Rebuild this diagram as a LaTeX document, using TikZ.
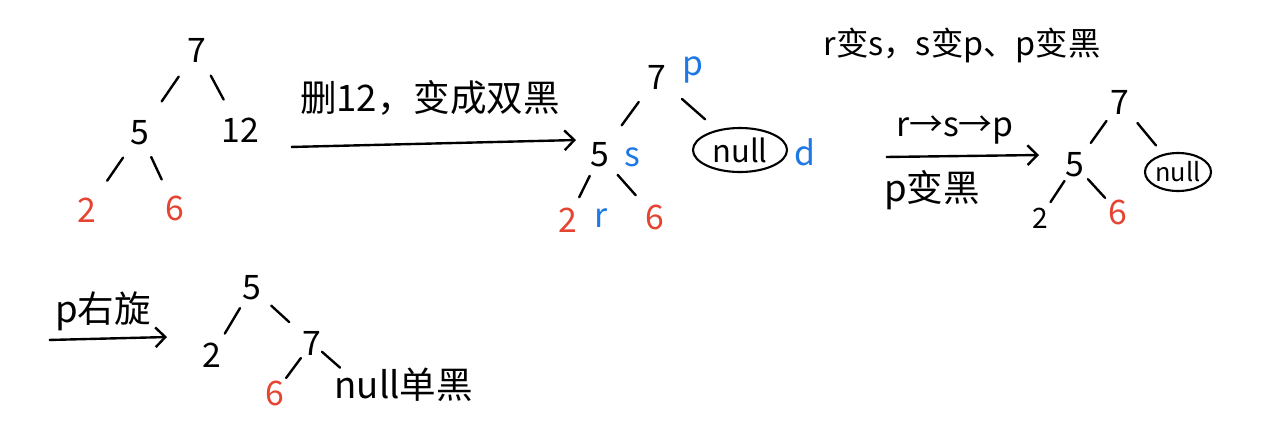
\documentclass[tikz,border=0pt]{standalone}
\usepackage{fontspec}
\setmainfont{Noto Sans CJK SC}
\usetikzlibrary{shapes.geometric,calc,arrows.meta}
\definecolor{hred}{RGB}{228,68,48}
\definecolor{hblue}{RGB}{30,120,228}

\begin{document}
\begin{tikzpicture}[
    x=0.025cm, y=-0.025cm,
    key/.style={inner sep=2pt, font=\fontsize{24}{26}\selectfont},
    redkey/.style={key, text=hred},
    tag/.style={inner sep=1pt, text=hblue, font=\fontsize{24}{26}\selectfont},
    nil/.style={ellipse, draw, line width=1.5pt, inner sep=0pt, font=\fontsize{22}{24}\selectfont},
    note/.style={inner sep=1pt, font=\fontsize{26}{28}\selectfont},
    edge/.style={line width=1.7pt, line cap=round},
    arrow/.style={-{Straight Barb[length=7pt,width=14pt]}, line width=1.7pt}
]
\useasboundingbox (0,0) rectangle (1280,441);

% before deletion
\node[key] (a7) at (197,50) {7};
\node[key] (a5) at (140,133) {5};
\node[key] (a12) at (240,130) {12};
\node[redkey] (a2) at (87,210) {2};
\node[redkey] (a6) at (175,208) {6};
\draw[edge] ($(a7)!0.32!(a5)$) -- ($(a7)!0.62!(a5)$);
\draw[edge] ($(a7)!0.32!(a12)$) -- ($(a7)!0.62!(a12)$);
\draw[edge] ($(a5)!0.32!(a2)$) -- ($(a5)!0.62!(a2)$);
\draw[edge] ($(a5)!0.32!(a6)$) -- ($(a5)!0.62!(a6)$);

\node[inner sep=0pt] (s1) at (290,147) {};
\node[inner sep=0pt] (e1) at (577,140) {};
\draw[arrow] (s1) -- (e1);
\node[note] (lab1) at (430,98) {删12，变成双黑};

% double black
\node[key] (b7) at (657,77) {7};
\node[tag] (tp) at (693,70) {p};
\node[key] (b5) at (600,155) {5};
\node[tag] (ts) at (632,157) {s};
\node[nil, minimum width=2.35cm, minimum height=1.1cm] (bnull) at (740,150) {null};
\node[tag] (td) at (805,152) {d};
\node[redkey] (b2) at (568,220) {2};
\node[tag] (tr) at (601,218) {r};
\node[redkey] (b6) at (655,217) {6};
\draw[edge] ($(b7)!0.32!(b5)$) -- ($(b7)!0.62!(b5)$);
\draw[edge] ($(b7)!0.3!(bnull)$) -- ($(b7)!0.58!(bnull)$);
\draw[edge] ($(b5)!0.32!(b2)$) -- ($(b5)!0.65!(b2)$);
\draw[edge] ($(b5)!0.32!(b6)$) -- ($(b5)!0.65!(b6)$);

\node[note, font=\fontsize{23}{25}\selectfont] (lab2) at (962,45) {r变s，s变p、p变黑};
\node[inner sep=0pt] (s2) at (885,157) {};
\node[inner sep=0pt] (e2) at (1040,155) {};
\draw[arrow] (s2) -- (e2);
\node[note, font=\fontsize{24}{26}\selectfont] (lab3) at (955,130) {r→s→p};
\node[note] (lab4) at (932,190) {p变黑};

% after recolouring
\node[key] (c7) at (1120,102) {7};
\node[key] (c5) at (1075,165) {5};
\node[nil, minimum width=1.65cm, minimum height=0.95cm, font=\fontsize{18}{20}\selectfont] (cnull) at (1178,172) {null};
\node[key, font=\fontsize{20}{22}\selectfont] (c2) at (1040,218) {2};
\node[redkey] (c6) at (1118,212) {6};
\draw[edge] ($(c7)!0.3!(c5)$) -- ($(c7)!0.65!(c5)$);
\draw[edge] ($(c7)!0.3!(cnull)$) -- ($(c7)!0.62!(cnull)$);
\draw[edge] ($(c5)!0.3!(c2)$) -- ($(c5)!0.7!(c2)$);
\draw[edge] ($(c5)!0.3!(c6)$) -- ($(c5)!0.7!(c6)$);

% right rotation
\node[inner sep=0pt] (s3) at (48,340) {};
\node[inner sep=0pt] (e3) at (168,337) {};
\draw[arrow] (s3) -- (e3);
\node[note] (lab5) at (103,311) {p右旋};

\node[key] (d5) at (252,288) {5};
\node[key] (d2) at (212,355) {2};
\node[key] (d7) at (312,343) {7};
\node[redkey] (d6) at (275,393) {6};
\node[note, anchor=west] (dnull) at (333,385) {null单黑};
\coordinate (dn) at (345,372);
\draw[edge] ($(d5)!0.3!(d2)$) -- ($(d5)!0.68!(d2)$);
\draw[edge] ($(d5)!0.32!(d7)$) -- ($(d5)!0.62!(d7)$);
\draw[edge] ($(d7)!0.3!(d6)$) -- ($(d7)!0.7!(d6)$);
\draw[edge] ($(d7)!0.3!(dn)$) -- ($(d7)!0.85!(dn)$);
\end{tikzpicture}
\end{document}
